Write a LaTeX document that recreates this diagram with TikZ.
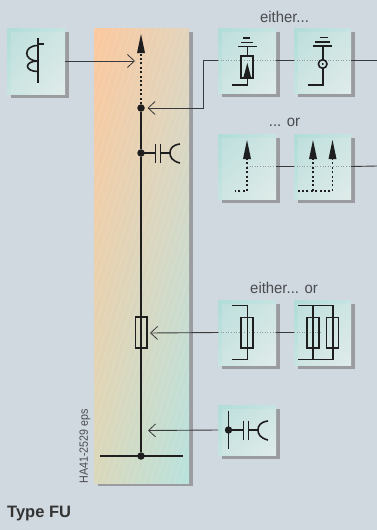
\documentclass[tikz,border=0pt]{standalone}
\usepackage{fontspec}
\setmainfont{Liberation Sans}
\newfontfamily\narrowf[FakeStretch=0.96]{Liberation Sans}
\newfontfamily\narrowg[FakeStretch=0.89]{Liberation Sans}
\usetikzlibrary{arrows.meta,shadings}
\definecolor{bgc}{HTML}{D0D9DF}
\definecolor{shc}{HTML}{9A9CA0}
\definecolor{lnc}{HTML}{1E1E1E}
\definecolor{txc}{HTML}{4A4C50}
\definecolor{tealA}{HTML}{B0DCD8}
\definecolor{tealB}{HTML}{C6E4E1}
\definecolor{tealC}{HTML}{DDECEA}
\definecolor{colA}{HTML}{FCC89E}
\definecolor{colB}{HTML}{E2D4BC}
\definecolor{colC}{HTML}{DAD8BA}
\definecolor{colD}{HTML}{B8E2DE}
\tikzset{
  x=1pt,y=-1pt,
  sym/.style={draw=lnc,line width=1.6pt,line cap=butt},
  symdot/.style={draw=lnc,line width=1.9pt,dash pattern=on 2pt off 2.4pt},
  conn/.style={draw=lnc!85!bgc,line width=0.9pt},
  faint/.style={draw=lnc!35!bgc,line width=0.4pt,dash pattern=on 0.8pt off 1.8pt},
  openarr/.style={-{Straight Barb[length=7pt,width=13pt,line width=0.8pt]}},
  solidtip/.style={fill=lnc,draw=none},
  bdot/.style={circle,fill=lnc,inner sep=0pt,minimum size=7.5pt},
  lbl/.style={text=txc,font=\narrowf\fontsize{15.5}{17}\selectfont,inner sep=0pt},
}
% box: name, x0, y0, x1, y1
\newcommand{\tbox}[5]{%
  \fill[shc] (#2+4,#3+4) rectangle (#4+3.5,#5+3.5);
  \shade[upper left=tealA,upper right=tealB,lower left=tealB,lower right=tealC]
     (#2,#3) rectangle (#4,#5);
  \fill[white!80!shc,opacity=0.22] (#2+4,#3+4) rectangle (#4,#5);
  \coordinate (#1) at ({(#2+#4)/2},{(#3+#5)/2});
  \coordinate (#1w) at (#2,{(#3+#5)/2});
  \coordinate (#1e) at (#4,{(#3+#5)/2});
}
\newcommand{\uptip}[2]{\fill[solidtip] (#1,#2) -- (#1-4,#2+19) -- (#1+4,#2+19) -- cycle;}
\begin{document}
\begin{tikzpicture}
\useasboundingbox (0,0) rectangle (377,530);
\fill[bgc] (0,0) rectangle (377,530);
% column
\fill[shc] (98,32) rectangle (193,486);
\shade[upper left=colA,upper right=colB,lower left=colC,lower right=colD]
  (94,28) rectangle (189,483);
\begin{scope}
\clip (94,28) rectangle (189,483);
\foreach \k in {0,6,...,560}{
  \draw[white,opacity=0.13,line width=0.8pt] (80+\k,20) -- (80+\k-145,500);
}
\end{scope}
% boxes
\tbox{A}{7}{28}{65}{94}
\tbox{B}{218}{28}{276}{93}
\tbox{C}{294}{28}{351}{93}
\tbox{D}{218}{134}{276}{199}
\tbox{E}{294}{134}{351}{199}
\tbox{F}{218}{300}{276}{365}
\tbox{G}{294}{300}{351}{365}
\tbox{H}{218}{405}{276}{455}
% free coordinates
\coordinate (t1) at (135,61);
\coordinate (t2) at (147.5,108);
\coordinate (t3) at (150,333);
\coordinate (t4) at (148,430.5);
\coordinate (r1) at (377,60.5);
\coordinate (r2) at (377,166);
\coordinate (k1) at (203.5,60.5);
\coordinate (k2) at (203.5,108);
% faint centre lines inside the boxes
\draw[faint] (Bw) -- (Be) (Cw) -- (Ce) (D) -- (De) (Ew) -- (Ee) (Fw) -- (Fe) (Gw) -- (G);
% connectors
\draw[conn,openarr] (Ae) -- (t1);
\draw[conn,openarr] (Bw) -- (k1) -- (k2) -- (t2);
\draw[conn] (Be) -- (Cw);
\draw[conn] (Ce) -- (r1);
\draw[conn] (De) -- (Ew);
\draw[conn] (Ee) -- (r2);
\draw[conn,openarr] (Fw) -- (t3);
\draw[conn] (Fe) -- (Gw);
\draw[conn,openarr] (Hw) -- (t4);
% main line
\node[bdot] (n1) at (141,108) {};
\node[bdot] (n2) at (141,153) {};
\node[bdot] (n3) at (141,456) {};
\coordinate (n0) at (141,53);
\draw[symdot] (n1) -- (n0);
\uptip{141}{34}
\draw[sym] (n1) -- (n2) -- (n3);
\draw[sym,line width=2.2pt] (100,456) -- (183,456);
% column capacitor
\draw[sym] (141,153) -- (155,153) (155.5,144) -- (155.5,163) (160.5,144) -- (160.5,163) (160.5,153) -- (170,153);
\draw[sym] (180,144) .. controls (172,145) and (170,149) .. (170,153) .. controls (170,157) and (172,161) .. (180,163);
% column fuse
\draw[sym] (135.5,317) rectangle (147,348);
% box A: coil
\draw[sym] (38,38) -- (38,83) (38,44) -- (44,44);
\draw[sym] (38,45.5) .. controls (23,45.5) and (23,61) .. (38,61);
\draw[sym] (38,61) .. controls (24,61) and (24,71.5) .. (38,71.5);
% box B
\draw[sym] (243,38) -- (250,38) (241,42.3) -- (253,42.3) (238,46.5) -- (256.5,46.5);
\draw[sym] (247.3,47) -- (247.3,55);
\draw[sym] (241,56) rectangle (253,78);
\fill[lnc] (247.3,63) -- (243.5,77) -- (251,77) -- cycle;
\draw[sym] (247.3,70) -- (247.3,85) -- (232,85);
% box C
\draw[sym] (320,37.5) -- (328,37.5) (315,42) -- (330,42) (313,46) -- (332,46);
\draw[sym] (322.7,46) -- (322.7,59.5);
\draw[sym] (322.7,64) circle (4.3);
\fill[lnc] (322.7,64) circle (1.1);
\draw[sym] (322.7,68.3) -- (322.7,85) -- (307.7,85);
% box D
\uptip{247}{140}
\draw[symdot] (247,158) -- (247,191) -- (235,191);
% box E
\uptip{313}{140}
\uptip{332.5}{140}
\draw[symdot] (313,158) -- (313,191);
\draw[symdot] (332.5,158) -- (332.5,191) -- (298,191);
% box F
\draw[sym] (232,305.5) -- (247.3,305.5) -- (247.3,359.5) -- (232,359.5);
\draw[sym] (241,317.5) rectangle (253,348);
% box G
\draw[sym] (298,305.5) -- (333,305.5) -- (333,359.5) -- (298,359.5) (313,305.5) -- (313,359.5);
\draw[sym] (307,317.5) rectangle (319,348);
\draw[sym] (326.5,317.5) rectangle (338.5,348);
% box H
\draw[sym] (228.5,411) -- (228.5,449);
\fill[lnc] (228.5,430) circle (3.7);
\draw[sym] (228.5,430) -- (243.5,430) (243.5,420.5) -- (243.5,440) (248.3,420.5) -- (248.3,440) (248.3,430) -- (258,430);
\draw[sym] (268,421) .. controls (260,422) and (258,426) .. (258,430) .. controls (258,434) and (260,438) .. (268,440);
% labels
\node[lbl] (l1) at (284.5,16.5) {either...};
\node[lbl] (l2) at (284.5,122) {... or};
\node[lbl] (l3) at (284,288) {either... or};
\node[lbl,rotate=90,font=\narrowg\fontsize{12}{14}\selectfont] (l4) at (85,446.5) {HA41-2529 eps};
\node[text=black!80,font=\bfseries\fontsize{16.5}{18}\selectfont,anchor=west,inner sep=0pt] (l5) at (7,514) {Type FU};
\end{tikzpicture}
\end{document}
